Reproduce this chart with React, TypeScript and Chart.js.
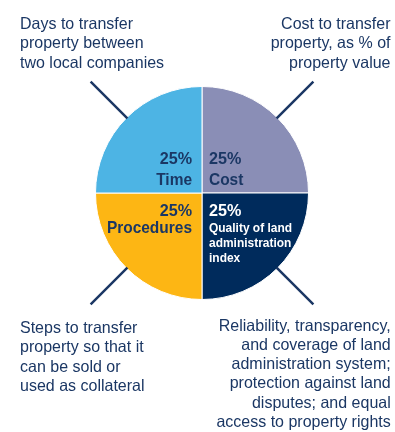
import React, { useEffect, useRef } from "react";
import { Chart, registerables } from "chart.js";

Chart.register(...registerables);

// Data
const categories = ["Cost", "Quality of land administration index", "Procedures", "Time"];
const values = [25, 25, 25, 25];
const sliceColors = ["#8a8eb6", "#002b5c", "#fdb614", "#4db4e4"];
const pctLabels = ["25%", "25%", "25%", "25%"];
const nameLines = [["Cost"], ["Quality of land", "administration", "index"], ["Procedures"], ["Time"]];
const descTopLeft = ["Days to transfer", "property between", "two local companies"];
const descTopRight = ["Cost to transfer", "property, as % of", "property value"];
const descBottomLeft = ["Steps to transfer", "property so that it", "can be sold or", "used as collateral"];
const descBottomRight = [
  "Reliability, transparency,",
  "and coverage of land",
  "administration system;",
  "protection against land",
  "disputes; and equal",
  "access to property rights",
];

const FONT = "'Liberation Sans', Arial, sans-serif";
const NAVY_TEXT = "#1b3764";
const LINE_COLOR = "#1b3764";

function drawText(ctx: any, text: string, x: number, y: number, sx: number) {
  ctx.save();
  ctx.translate(x, y);
  ctx.scale(sx, 1);
  ctx.fillText(text, 0, 0);
  ctx.restore();
}

const labelPlugin = {
  id: "sliceLabels",
  afterDatasetsDraw(chart: any) {
    const ctx = chart.ctx;
    const meta = chart.getDatasetMeta(0);
    ctx.save();
    meta.data.forEach((arc: any, i: number) => {
      const cx = arc.x;
      const cy = arc.y;
      const r = arc.outerRadius;
      const mid = (arc.startAngle + arc.endAngle) / 2;
      const dx = Math.cos(mid);
      const dy = Math.sin(mid);
      // leader line
      ctx.strokeStyle = LINE_COLOR;
      ctx.lineWidth = 2.5;
      ctx.beginPath();
      ctx.moveTo(cx + dx * (r - 1), cy + dy * (r - 1));
      ctx.lineTo(cx + dx * (r + 51), cy + dy * (r + 51));
      ctx.stroke();

      const right = dx > 0;
      const bottom = dy > 0;
      const x = right ? cx + 7 : cx - 10;
      ctx.textAlign = right ? "left" : "right";
      ctx.textBaseline = "alphabetic";
      const white = i === 1;
      ctx.fillStyle = white ? "#ffffff" : NAVY_TEXT;
      ctx.font = `bold 17px ${FONT}`;
      const pctY = bottom ? cy + 23 : cy - 29;
      drawText(ctx, pctLabels[i], x, pctY, 0.95);
      const lines = nameLines[i];
      if (lines.length === 1) {
        drawText(ctx, lines[0], x, pctY + (bottom ? 17 : 21), 0.91);
      } else {
        ctx.font = `bold 13px ${FONT}`;
        lines.forEach((ln: string, k: number) => {
          drawText(ctx, ln, x, pctY + 16 + k * 15, 0.92);
        });
      }
    });
    ctx.restore();
  },
};

const textStyle: React.CSSProperties = {
  position: "absolute",
  fontFamily: FONT,
  fontSize: "16.5px",
  lineHeight: "19.5px",
  color: NAVY_TEXT,
  whiteSpace: "nowrap",
};

export default function App() {
  const ref = useRef<HTMLCanvasElement | null>(null);
  useEffect(() => {
    if (!ref.current) return;
    const chart = new Chart(ref.current, {
      type: "pie",
      data: {
        labels: categories,
        datasets: [
          {
            data: values,
            backgroundColor: sliceColors,
            borderColor: "#ffffff",
            borderWidth: 1,
          },
        ],
      },
      options: {
        animation: false,
        responsive: false,
        maintainAspectRatio: false,
        layout: { padding: { left: 95, right: 86, top: 86, bottom: 132 } },
        plugins: {
          legend: { display: false },
          tooltip: { enabled: false },
        },
      },
      plugins: [labelPlugin],
    });
    return () => chart.destroy();
  }, []);

  const leftT: React.CSSProperties = { transform: "scaleX(0.97)", transformOrigin: "left top" };
  const rightT: React.CSSProperties = { transform: "scaleX(0.97)", transformOrigin: "right top" };

  return (
    <div style={{ position: "fixed", left: 0, top: 0, width: 395, height: 432, background: "#fff", overflow: "hidden" }}>
      <canvas ref={ref} width={395} height={432} style={{ position: "absolute", left: 0, top: 0, width: 395, height: 432 }} />
      <div style={{ ...textStyle, ...leftT, left: 20, top: 13.5, textAlign: "left" }}>
        {descTopLeft.map((t) => (
          <div key={t}>{t}</div>
        ))}
      </div>
      <div style={{ ...textStyle, ...rightT, right: 4, top: 13.5, textAlign: "right" }}>
        {descTopRight.map((t) => (
          <div key={t}>{t}</div>
        ))}
      </div>
      <div style={{ ...textStyle, ...leftT, left: 20, top: 317.5, textAlign: "left" }}>
        {descBottomLeft.map((t) => (
          <div key={t}>{t}</div>
        ))}
      </div>
      <div style={{ ...textStyle, ...rightT, right: 4, top: 315.5, lineHeight: "19.3px", textAlign: "right" }}>
        {descBottomRight.map((t) => (
          <div key={t}>{t}</div>
        ))}
      </div>
    </div>
  );
}
